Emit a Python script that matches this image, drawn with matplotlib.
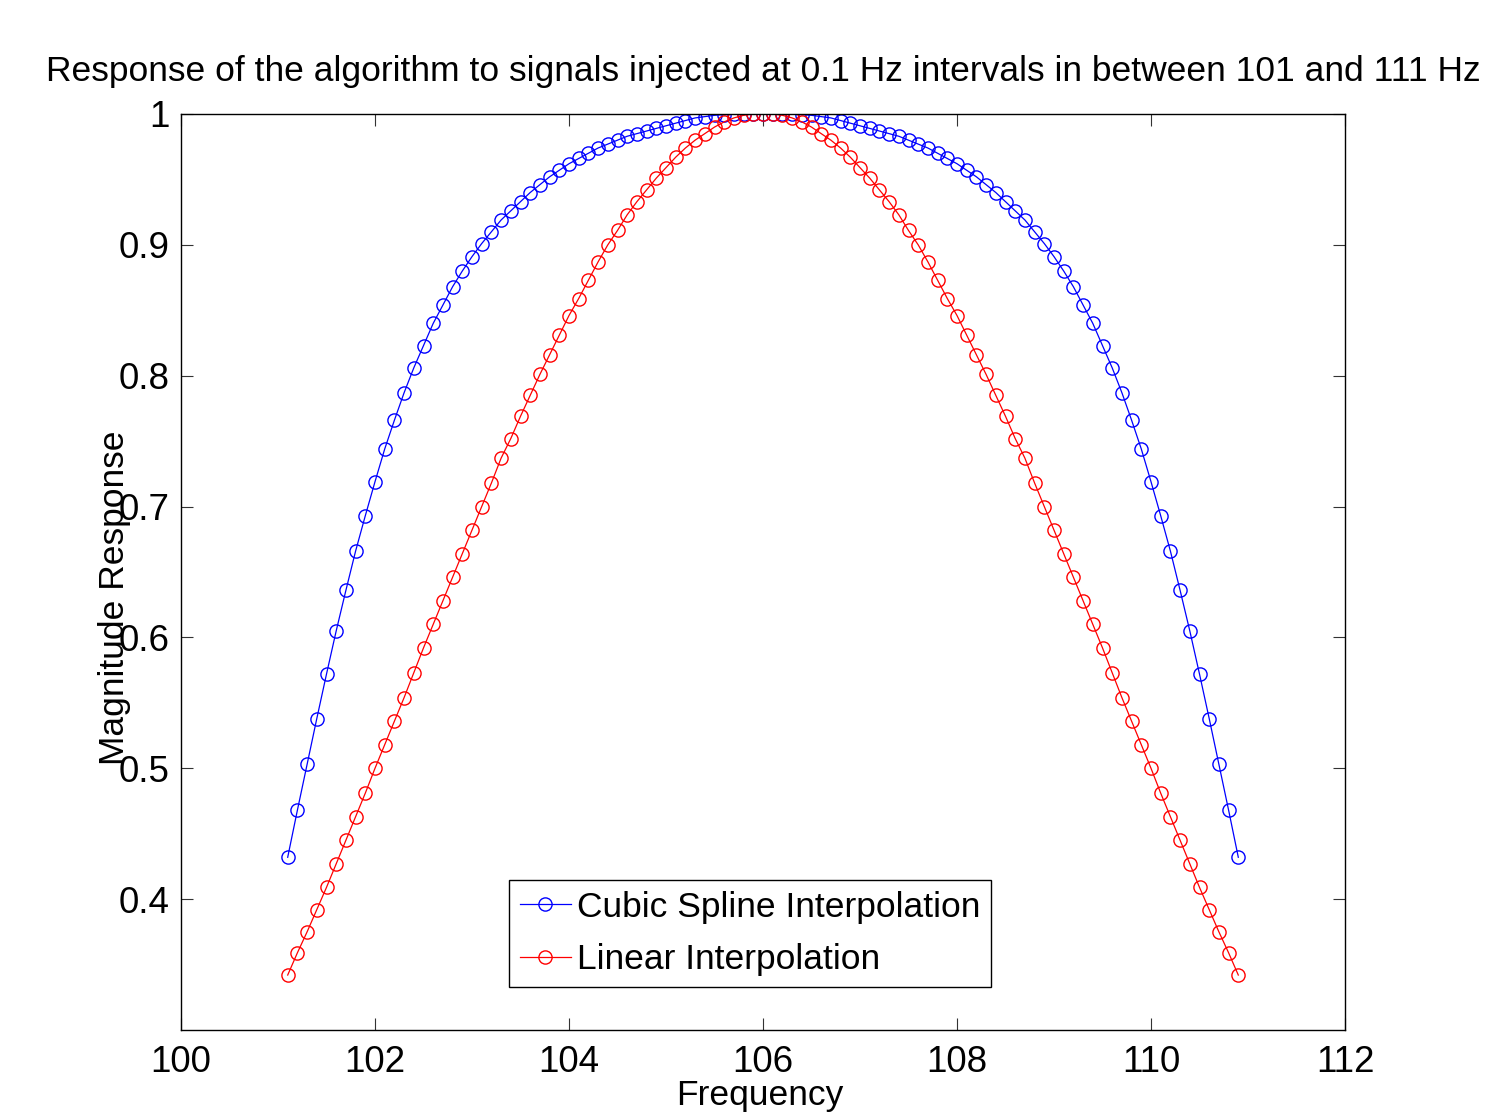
import matplotlib
matplotlib.use('Agg')
import matplotlib.pyplot as plt
import numpy as np

# frecuencias inyectadas (Hz)
freq = [101.1, 101.2, 101.3, 101.4, 101.5, 101.6, 101.7, 101.8, 101.9, 102.0,
        102.1, 102.2, 102.3, 102.4, 102.5, 102.6, 102.7, 102.8, 102.9, 103.0,
        103.1, 103.2, 103.3, 103.4, 103.5, 103.6, 103.7, 103.8, 103.9, 104.0,
        104.1, 104.2, 104.3, 104.4, 104.5, 104.6, 104.7, 104.8, 104.9, 105.0,
        105.1, 105.2, 105.3, 105.4, 105.5, 105.6, 105.7, 105.8, 105.9, 106.0,
        106.1, 106.2, 106.3, 106.4, 106.5, 106.6, 106.7, 106.8, 106.9, 107.0,
        107.1, 107.2, 107.3, 107.4, 107.5, 107.6, 107.7, 107.8, 107.9, 108.0,
        108.1, 108.2, 108.3, 108.4, 108.5, 108.6, 108.7, 108.8, 108.9, 109.0,
        109.1, 109.2, 109.3, 109.4, 109.5, 109.6, 109.7, 109.8, 109.9, 110.0,
        110.1, 110.2, 110.3, 110.4, 110.5, 110.6, 110.7, 110.8, 110.9]

cubic = [0.432, 0.468, 0.503, 0.538, 0.572, 0.605, 0.636, 0.666, 0.693, 0.719,
         0.744, 0.766, 0.787, 0.806, 0.823, 0.840, 0.854, 0.868, 0.880, 0.891,
         0.901, 0.910, 0.919, 0.926, 0.933, 0.940, 0.946, 0.952, 0.957, 0.962,
         0.966, 0.970, 0.974, 0.977, 0.980, 0.983, 0.985, 0.987, 0.989, 0.991,
         0.993, 0.995, 0.997, 0.998, 0.999, 0.9995, 0.9998, 0.9999, 1.000, 1.000,
         1.000, 0.9999, 0.9998, 0.9995, 0.999, 0.998, 0.997, 0.995, 0.993, 0.991,
         0.989, 0.987, 0.985, 0.983, 0.980, 0.977, 0.974, 0.970, 0.966, 0.962,
         0.957, 0.952, 0.946, 0.940, 0.933, 0.926, 0.919, 0.910, 0.901, 0.891,
         0.880, 0.868, 0.854, 0.840, 0.823, 0.806, 0.787, 0.766, 0.744, 0.719,
         0.693, 0.666, 0.636, 0.605, 0.572, 0.538, 0.503, 0.468, 0.432]

lineal = [0.342, 0.359, 0.375, 0.392, 0.409, 0.427, 0.445, 0.463, 0.481, 0.500,
          0.518, 0.536, 0.554, 0.573, 0.592, 0.610, 0.628, 0.646, 0.664, 0.682,
          0.700, 0.718, 0.737, 0.752, 0.769, 0.785, 0.801, 0.816, 0.831, 0.846,
          0.859, 0.873, 0.887, 0.900, 0.911, 0.923, 0.933, 0.942, 0.951, 0.959,
          0.967, 0.974, 0.980, 0.985, 0.990, 0.994, 0.997, 0.999, 1.000, 1.000,
          1.000, 0.999, 0.997, 0.994, 0.990, 0.985, 0.980, 0.974, 0.967, 0.959,
          0.951, 0.942, 0.933, 0.923, 0.911, 0.900, 0.887, 0.873, 0.859, 0.846,
          0.831, 0.816, 0.801, 0.785, 0.769, 0.752, 0.737, 0.718, 0.700, 0.682,
          0.664, 0.646, 0.628, 0.610, 0.592, 0.573, 0.554, 0.536, 0.518, 0.500,
          0.481, 0.463, 0.445, 0.427, 0.409, 0.392, 0.375, 0.359, 0.342]

xticks = [100, 102, 104, 106, 108, 110, 112]
yticks = [0.4, 0.5, 0.6, 0.7, 0.8, 0.9, 1.0]
ytick_labels = ['0.4', '0.5', '0.6', '0.7', '0.8', '0.9', '1']

plt.rcParams['font.family'] = ['Liberation Sans Narrow', 'Liberation Sans', 'DejaVu Sans']
plt.rcParams['font.size'] = 25.5

fig = plt.figure(figsize=(14.85, 11.16), dpi=100)
ax = fig.add_axes([181/1485, 1 - 1030/1116, 1164/1485, 916/1116])

ax.plot(freq, cubic, color='blue', marker='o', markersize=9.5, markerfacecolor='none',
        markeredgewidth=1.0, linewidth=0.9, label='Cubic Spline Interpolation')
ax.plot(freq, lineal, color='red', marker='o', markersize=9.5, markerfacecolor='none',
        markeredgewidth=1.0, linewidth=0.9, label='Linear Interpolation')

ax.set_xlim(100, 112)
ax.set_ylim(0.3, 1.0)
ax.set_xticks(xticks)
ax.set_yticks(yticks)
ax.set_yticklabels(ytick_labels)
ax.tick_params(direction='in', length=8.5, width=0.8, top=True, right=True,
               color='#333333', labelsize=26.5)
ax.tick_params(axis='x', pad=11)
ax.tick_params(axis='y', pad=8)
for s in ax.spines.values():
    s.set_linewidth(1.0)

ax.set_title('Response of the algorithm to signals injected at 0.1 Hz intervals in between 101 and 111 Hz',
             fontsize=25.5, pad=24)
ax.set_xlabel('Frequency', fontsize=25.5)
ax.set_ylabel('Magnitude Response', fontsize=25.5)
ax.xaxis.set_label_coords(0.497, -0.054)
ax.yaxis.set_label_coords(-0.043, 0.472)

# leyenda con marco negro, esquinas rectas
leg = ax.legend(loc='lower left', bbox_to_anchor=(509/1485, 1 - 987/1116),
                bbox_transform=fig.transFigure, fancybox=False, framealpha=1,
                edgecolor='black', fontsize=25.5, handlelength=1.45, handletextpad=0.17,
                borderpad=0.3, labelspacing=0.55, borderaxespad=0)
leg.get_frame().set_linewidth(1.0)

fig.savefig('out.png', dpi=100)
